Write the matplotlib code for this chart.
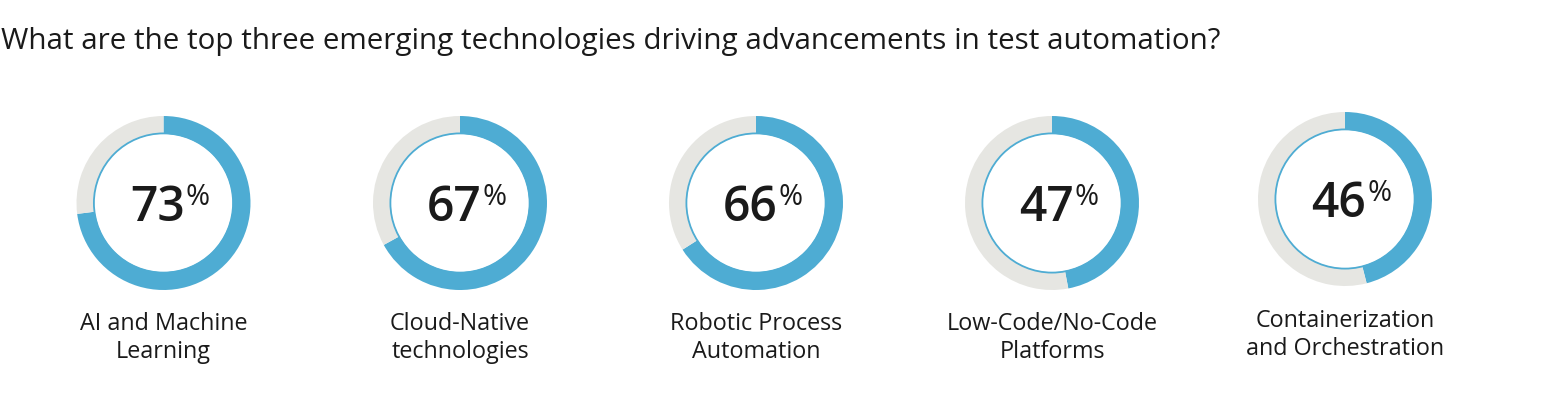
import matplotlib
matplotlib.use("Agg")
import matplotlib.pyplot as plt
from matplotlib.patches import Circle

title = "What are the top three emerging technologies driving advancements in test automation?"
categories = ["AI and Machine\nLearning", "Cloud-Native\ntechnologies", "Robotic Process\nAutomation",
              "Low-Code/No-Code\nPlatforms", "Containerization\nand Orchestration"]
values = [73, 67, 66, 47, 46]

W, H = 1562, 416
BLUE = "#4EACD3"
GRAY = "#E6E6E2"
TXT = "#1a1a1a"
FONT = ["Open Sans", "DejaVu Sans"]

centers_x = [163.5, 460, 756, 1052, 1345]
centers_y = [203, 203, 203, 203, 199]
label_y = [338, 338, 338, 338, 335]
R = 87.0

fig = plt.figure(figsize=(W / 100, H / 100), dpi=100)
fig.patch.set_facecolor("white")

for v, cx, cy in zip(values, centers_x, centers_y):
    ax = fig.add_axes([(cx - R) / W, 1 - (cy + R) / H, 2 * R / W, 2 * R / H])
    ax.pie([v, 100 - v], colors=[BLUE, GRAY], startangle=90, counterclock=False,
           radius=1.0, wedgeprops=dict(width=0.205, linewidth=0))
    ax.add_patch(Circle((0, 0), 0.8, fill=False, edgecolor=BLUE, linewidth=1.3))
    ax.set_xlim(-1.0, 1.0)
    ax.set_ylim(-1.0, 1.0)
    ax.set_aspect("equal")
    ax.axis("off")

ax0 = fig.add_axes([0, 0, 1, 1])
ax0.set_xlim(0, W)
ax0.set_ylim(H, 0)
ax0.axis("off")
ax0.patch.set_alpha(0)

ax0.text(1, 41, title, fontsize=21.3, color=TXT, family=FONT, ha="left", va="center")

for v, cat, cx, cy, ly in zip(values, categories, centers_x, centers_y, label_y):
    num = ax0.text(cx - 6, cy + 18, f"{v}", fontsize=34.5, fontweight="semibold",
                   color=TXT, family=FONT, ha="center", va="baseline")
    ax0.annotate("%", xy=(1, cy + 2), xycoords=(num, "data"), xytext=(0.5, 0),
                 textcoords="offset points", fontsize=21, color=TXT, family=FONT,
                 ha="left", va="baseline")
    ax0.text(cx, ly, cat, fontsize=16.8, color=TXT, family=FONT, ha="center",
             va="center", linespacing=1.2)

fig.savefig("out.png", dpi=100, facecolor="white")
